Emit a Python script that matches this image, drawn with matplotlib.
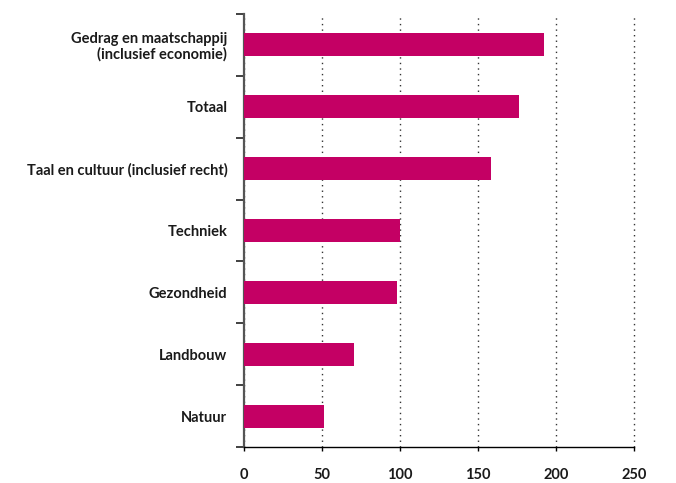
import matplotlib
matplotlib.use("Agg")
import matplotlib.pyplot as plt
import numpy as np

# ── Data ──────────────────────────────────────────────────────────────────────
categories = [
    "Gedrag en maatschappij\n(inclusief economie)",
    "Totaal",
    "Taal en cultuur (inclusief recht)",
    "Techniek",
    "Gezondheid",
    "Landbouw",
    "Natuur",
]
values = [192, 176, 158, 100, 98, 70.5, 51.5]
xticks = [0, 50, 100, 150, 200, 250]

BAR = "#c40064"
TEXT = "#1a1a1a"

plt.rcParams["font.family"] = ["Lato", "DejaVu Sans"]

fig = plt.figure(figsize=(6.76, 4.83), dpi=100)
ax = fig.add_axes([0.361, 0.0745, 0.577, 0.8965])

y = np.arange(len(categories))[::-1]
ax.barh(y, values, height=0.37, color=BAR, zorder=3)

ax.set_xlim(0, 250)
ax.set_ylim(-0.5, len(categories) - 0.5)

ax.set_xticks(xticks)
ax.set_xticklabels([str(t) for t in xticks], fontweight="bold", fontsize=10.5, color=TEXT)
ax.tick_params(axis="x", direction="out", length=3, width=1, pad=12, color="black")

ax.set_yticks(y)
ax.set_yticklabels(categories, fontweight="bold", fontsize=10.5, color=TEXT,
                   linespacing=1.05)
ax.tick_params(axis="y", which="major", length=0, pad=12)
ax.set_yticks(np.arange(-0.5, len(categories), 1), minor=True)
ax.tick_params(axis="y", which="minor", length=6, width=1.3, color="#333333")

ax.xaxis.grid(True, linestyle=(0, (1, 3)), color="#333333", linewidth=1, zorder=0,
              clip_on=False)
ax.set_axisbelow(True)

for s in ["top", "right"]:
    ax.spines[s].set_visible(False)
ax.spines["left"].set_color("#555555")
ax.spines["left"].set_linewidth(1.6)
ax.spines["bottom"].set_color("black")
ax.spines["bottom"].set_linewidth(1)

fig.savefig("out.png", dpi=100, facecolor="white")
